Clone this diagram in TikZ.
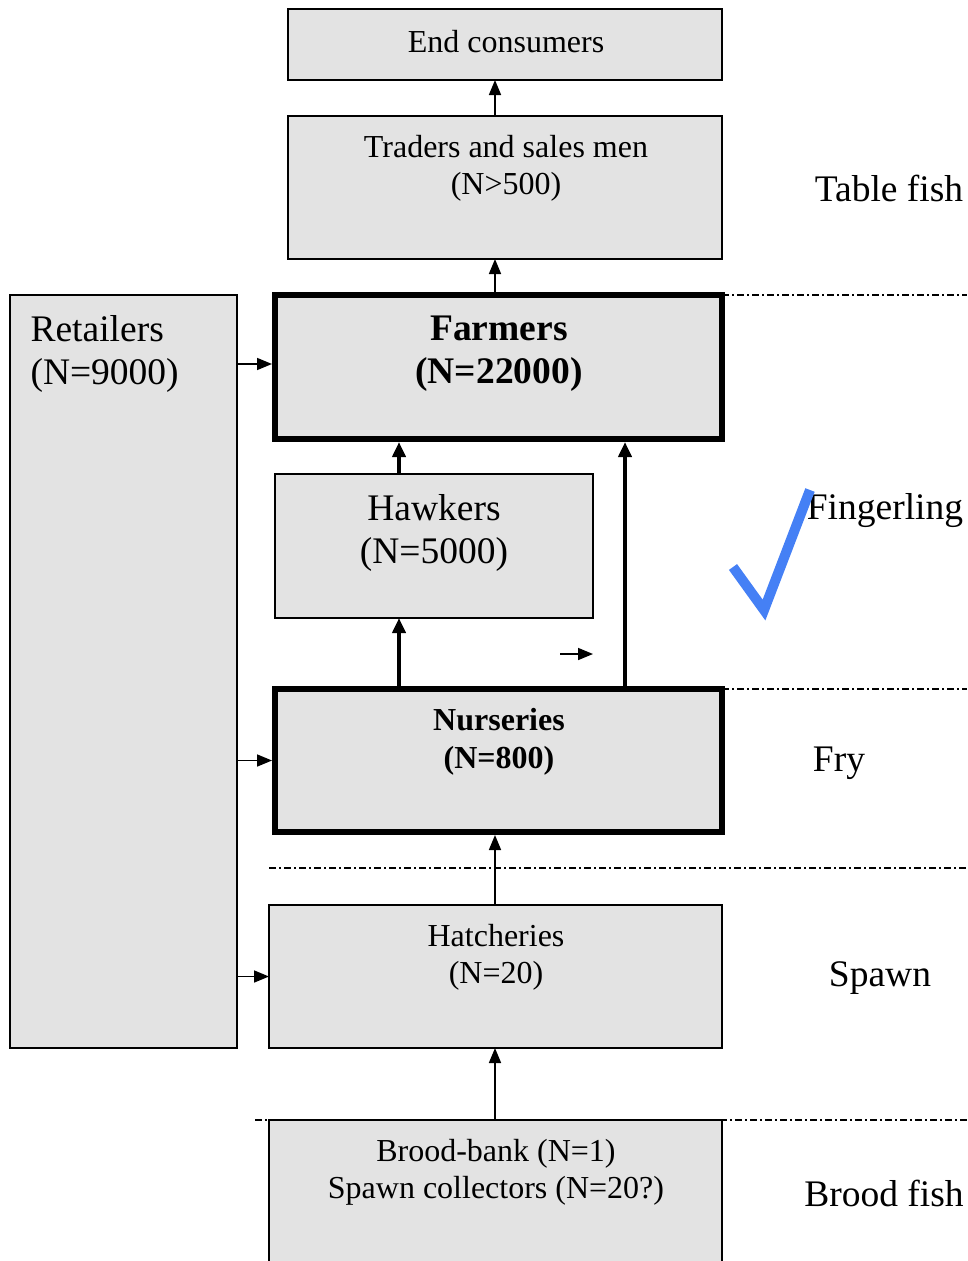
\documentclass[tikz,border=0pt]{standalone}
\usepackage{fontspec}
\setmainfont{Liberation Serif}
\usetikzlibrary{arrows.meta}
\begin{document}
\begin{tikzpicture}[x=1pt,y=-1pt,
  box/.style={draw=black,line width=1.6pt,fill=boxgray,inner sep=0pt,outer sep=0pt,anchor=north west},
  bigbox/.style={box,line width=6pt},
  small/.style={font=\fontsize{32}{37}\selectfont,align=center},
  large/.style={font=\fontsize{37.5}{43}\selectfont,align=center},
  arr/.style={line width=1.6pt,-{Triangle[length=15pt,width=12pt]}},
  tarr/.style={line width=4pt,-{Triangle[length=15pt,width=13pt]}},
  level/.style={line width=1.3pt,dash pattern=on 7pt off 3pt on 2pt off 3pt}]
\definecolor{boxgray}{HTML}{E3E3E3}
\definecolor{tick}{HTML}{4580F5}
\clip (0,0) rectangle (967,1261);

% boxes (positions are the centre lines of their borders)
\node[box,minimum width=434pt,minimum height=71pt] (end) at (288,9) {};
\node[box,minimum width=434pt,minimum height=143pt] (trd) at (288,116) {};
\node[box,minimum width=227pt,minimum height=753pt] (ret) at (10,295) {};
\node[bigbox,minimum width=447pt,minimum height=144pt] (farm) at (275,295) {};
\node[box,minimum width=318pt,minimum height=144pt] (hawk) at (275,474) {};
\node[bigbox,minimum width=447pt,minimum height=143pt] (nur) at (275,689) {};
\node[box,minimum width=453pt,minimum height=143pt] (hat) at (269,905) {};
\node[box,minimum width=453pt,minimum height=170pt] (brood) at (269,1120) {};

% box texts
\node[small] at (506,168) {Traders and sales men\\(N>500)};
\node[small] at (506,42) {End consumers};
\node[large,align=left,anchor=west] at (27,354) {Retailers\\(N=9000)};
\node[large,font=\fontsize{37.5}{43}\selectfont\bfseries] at (499,354) {Farmers\\(N=22000)};
\node[large] at (434,533) {Hawkers\\(N=5000)};
\node[small,font=\fontsize{32}{38}\selectfont\bfseries] at (499,742) {Nurseries\\(N=800)};
\node[small] at (496,957) {Hatcheries\\(N=20)};
\node[small] at (496,1172) {Brood-bank (N=1)\\Spawn collectors (N=20?)};

% stage labels
\node[large] at (889,188) {Table fish};
\node[large] at (885,511) {Fingerling};
\node[large] at (839,763) {Fry};
\node[large] at (880,978) {Spawn};
\node[large] at (884,1193) {Brood fish};

% stage boundaries
\coordinate (e1) at (967,295);
\coordinate (e2) at (967,689);
\coordinate (e3) at (967,868);
\coordinate (e4) at (967,1120);
\coordinate (s3) at (269,868);
\coordinate (s4) at (255,1120);
\draw[level] (farm.north east) -- (e1);
\draw[level] (nur.north east) -- (e2);
\draw[level] (s3) -- (e3);
\draw[level] (s4) -- (e4);

% columns of the vertical flows
\coordinate (cmain) at (495,0);
\coordinate (chawk) at (399,0);
\coordinate (cdirect) at (625,0);
\coordinate (rfarm) at (0,364);

% flows
\draw[arr] (trd.north -| cmain) -- (end.south -| cmain);
\draw[arr] ([yshift=3pt]farm.north -| cmain) -- (trd.south -| cmain);
\draw[tarr] ([yshift=3pt]nur.north -| chawk) -- (hawk.south -| chawk);
\draw[tarr] (hawk.north -| chawk) -- ([yshift=-3pt]farm.south -| chawk);
\draw[tarr] ([yshift=3pt]nur.north -| cdirect) -- ([yshift=-3pt]farm.south -| cdirect);
\draw[arr] (hat.north -| cmain) -- ([yshift=-3pt]nur.south -| cmain);
\draw[arr] (brood.north -| cmain) -- (hat.south -| cmain);
\draw[arr] (ret.east |- rfarm) -- ([xshift=-3pt]farm.west |- rfarm);
\draw[arr] (ret.east |- nur.west) -- ([xshift=-3pt]nur.west);
\draw[arr] (ret.east |- hat.west) -- (hat.west);
\coordinate (fa) at (560,654);
\coordinate (fb) at (593,654);
\draw[arr] (fa) -- (fb);

% check mark
\draw[tick,line width=10pt,line join=miter] (733,567) -- (764,610) -- (810,490);
\end{tikzpicture}
\end{document}
